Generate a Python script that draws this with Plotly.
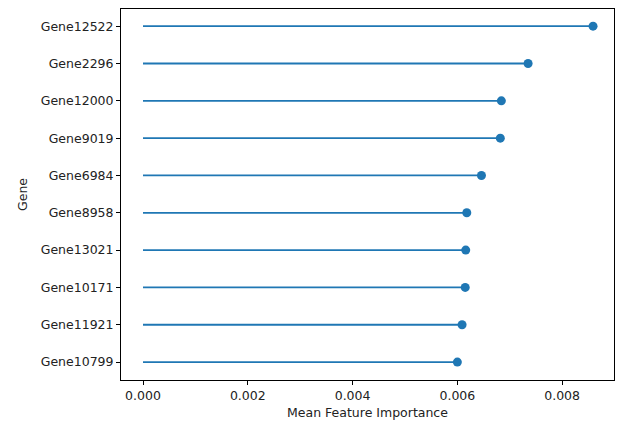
import plotly.graph_objects as go

# Data (bottom to top)
genes = ["Gene10799", "Gene11921", "Gene10171", "Gene13021", "Gene8958",
         "Gene6984", "Gene9019", "Gene12000", "Gene2296", "Gene12522"]
importance = [0.00600, 0.00609, 0.00615, 0.00616, 0.00618,
              0.00646, 0.00682, 0.00684, 0.00735, 0.00859]

color = "#1f77b4"

# stems
line_x, line_y = [], []
for g, v in zip(genes, importance):
    line_x += [0, v, None]
    line_y += [g, g, None]

fig = go.Figure()
fig.add_trace(go.Scatter(x=line_x, y=line_y, mode="lines",
                         line=dict(color=color, width=1.8), hoverinfo="skip"))
fig.add_trace(go.Scatter(x=importance, y=genes, mode="markers",
                         marker=dict(color=color, size=9)))

axis_common = dict(showline=True, linecolor="black", linewidth=1, mirror=True,
                   ticks="outside", ticklen=4, tickcolor="black", showgrid=False,
                   zeroline=False, automargin=False,
                   tickfont=dict(size=12.5, color="#222"))

fig.update_layout(
    width=626, height=432,
    margin=dict(l=121, r=12, t=9, b=52, pad=0),
    plot_bgcolor="white", paper_bgcolor="white",
    showlegend=False,
    font=dict(family="DejaVu Sans", color="#222"),
    xaxis=dict(range=[-0.00042, 0.00899], tickvals=[0, 0.002, 0.004, 0.006, 0.008],
               tickformat=".3f",
               title=dict(text="Mean Feature Importance", font=dict(size=12.5), standoff=6),
               **axis_common),
    yaxis=dict(type="category", categoryorder="array", categoryarray=genes,
               range=[-0.48, 9.46],
               title=dict(text="Gene", font=dict(size=12.5), standoff=10),
               **axis_common),
)

fig.write_html("out.html", config={"displayModeBar": False},
               post_script="document.body.style.margin='0';")
